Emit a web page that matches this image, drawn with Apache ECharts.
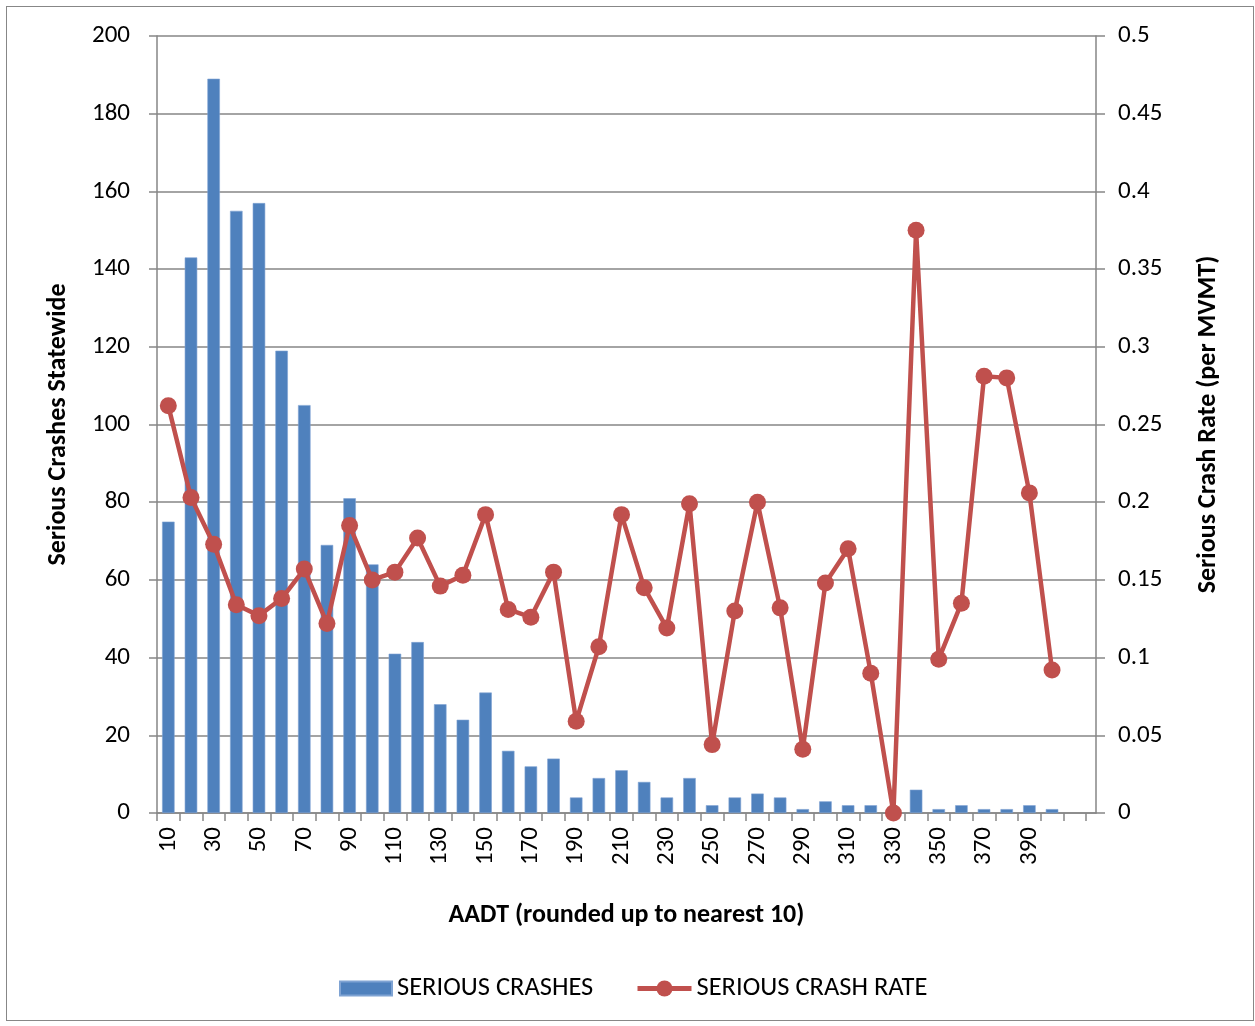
<!DOCTYPE html>
<html>
<head>
<meta charset="utf-8">
<script src="https://cdn.jsdelivr.net/npm/echarts@6/dist/echarts.min.js"></script>
<style>
html,body{margin:0;padding:0;background:#ffffff;}
#wrap{position:relative;width:1255px;height:1026px;}
#chart{position:absolute;left:0;top:0;width:1255px;height:1026px;}
#frame{position:absolute;left:6px;top:6px;width:1248px;height:1015px;border:1.5px solid #878787;box-sizing:border-box;pointer-events:none;}
</style>
</head>
<body>
<div id="wrap"><div id="chart"></div><div id="frame"></div></div>
<script>
// Categories: AADT rounded up to nearest 10 (last category is empty)
const categories = ['10','20','30','40','50','60','70','80','90','100',
  '110','120','130','140','150','160','170','180','190','200',
  '210','220','230','240','250','260','270','280','290','300',
  '310','320','330','340','350','360','370','380','390','400',''];

// Serious crashes statewide (left axis)
const seriousCrashes = [75,143,189,155,157,119,105,69,81,64,
  41,44,28,24,31,16,12,14,4,9,
  11,8,4,9,2,4,5,4,1,3,
  2,2,0,6,1,2,1,1,2,1];

// Serious crash rate per MVMT (right axis)
const seriousCrashRate = [0.262,0.203,0.173,0.134,0.127,0.138,0.157,0.122,0.185,0.150,
  0.155,0.177,0.146,0.153,0.192,0.131,0.126,0.155,0.059,0.107,
  0.192,0.145,0.119,0.199,0.044,0.130,0.200,0.132,0.041,0.148,
  0.170,0.090,0.000,0.375,0.099,0.135,0.281,0.280,0.206,0.092];

const leftTicks = [0,20,40,60,80,100,120,140,160,180,200];
const rightTicks = [0,0.05,0.1,0.15,0.2,0.25,0.3,0.35,0.4,0.45,0.5];

const FONT = 'Carlito, Lato, "Open Sans", sans-serif';
const AXIS_COLOR = '#868686';

// positions on the x value scale: category i occupies [i, i+1]
const barData = seriousCrashes.map((v, i) => [i + 0.5, v]);
const lineData = seriousCrashRate.map((v, i) => [i + 0.5, v]);
const tickValues = categories.map((c, i) => i).concat([categories.length]);
const labelValues = categories.map((c, i) => i + 0.5).filter((v, i) => i % 2 === 0 && categories[i] !== '');

const chart = echarts.init(document.getElementById('chart'), null, {renderer: 'canvas'});
chart.setOption({
  animation: false,
  backgroundColor: '#ffffff',
  textStyle: {fontFamily: FONT},
  grid: {left: 157, right: 159, top: 36, bottom: 213, containLabel: false},
  legend: [
    {
      show: true,
      left: 339,
      top: 975,
      padding: 0,
      itemWidth: 52,
      itemHeight: 14,
      textStyle: {fontFamily: FONT, fontSize: 26.5, color: '#000000'},
      data: [{name: 'SERIOUS CRASHES', icon: 'rect'}]
    },
    {
      show: true,
      left: 635,
      top: 975,
      padding: 0,
      itemWidth: 54,
      itemHeight: 20,
      lineStyle: {width: 5},
      textStyle: {fontFamily: FONT, fontSize: 26.5, color: '#000000'},
      data: [{name: 'SERIOUS CRASH RATE'}]
    }
  ],
  xAxis: {
    type: 'value',
    min: 0,
    max: categories.length + 0.44,
    name: 'AADT (rounded up to nearest 10)',
    nameLocation: 'middle',
    nameGap: 89,
    nameTextStyle: {fontFamily: FONT, fontSize: 26, fontWeight: 'bold', color: '#000000'},
    axisLine: {show: true, lineStyle: {color: AXIS_COLOR, width: 1.5}},
    axisTick: {show: true, length: 8, lineStyle: {color: AXIS_COLOR, width: 1.5}, customValues: tickValues},
    axisLabel: {
      show: true, rotate: 90, margin: 14,
      fontFamily: FONT, fontSize: 25, color: '#000000',
      customValues: labelValues,
      formatter: v => categories[Math.floor(v)] || ''
    },
    splitLine: {show: false}
  },
  yAxis: [
    {
      type: 'value',
      position: 'left',
      min: 0, max: 200, interval: 20,
      name: 'Serious Crashes Statewide',
      nameLocation: 'middle',
      nameRotate: 90,
      nameGap: 86,
      nameTextStyle: {fontFamily: FONT, fontSize: 26, fontWeight: 'bold', color: '#000000'},
      axisLine: {show: true, lineStyle: {color: AXIS_COLOR, width: 1.5}},
      axisTick: {show: true, length: 8, lineStyle: {color: AXIS_COLOR, width: 1.5}},
      axisLabel: {margin: 27, fontFamily: FONT, fontSize: 25, color: '#000000',
        customValues: leftTicks},
      splitLine: {show: true, lineStyle: {color: AXIS_COLOR, width: 1.5}}
    },
    {
      type: 'value',
      position: 'right',
      min: 0, max: 0.5, interval: 0.05,
      name: 'Serious Crash Rate (per MVMT)',
      nameLocation: 'middle',
      nameRotate: 90,
      nameGap: 99,
      nameTextStyle: {fontFamily: FONT, fontSize: 26, fontWeight: 'bold', color: '#000000'},
      axisLine: {show: true, lineStyle: {color: AXIS_COLOR, width: 1.5}},
      axisTick: {show: true, length: 9, lineStyle: {color: AXIS_COLOR, width: 1.5}},
      axisLabel: {margin: 22, fontFamily: FONT, fontSize: 25, color: '#000000',
        customValues: rightTicks,
        formatter: v => String(Math.round(v * 100) / 100)},
      splitLine: {show: false}
    }
  ],
  series: [
    {
      name: 'SERIOUS CRASHES',
      type: 'bar',
      xAxisIndex: 0,
      yAxisIndex: 0,
      barWidth: 12.5,
      itemStyle: {color: '#4F81BD', borderColor: '#7FA3D3', borderWidth: 0.6},
      data: barData,
      z: 2
    },
    {
      name: 'SERIOUS CRASH RATE',
      type: 'line',
      xAxisIndex: 0,
      yAxisIndex: 1,
      symbol: 'circle',
      symbolSize: 17,
      lineStyle: {color: '#C0504D', width: 4.5},
      itemStyle: {color: '#C0504D'},
      data: lineData,
      z: 3
    }
  ]
});
</script>
</body>
</html>
